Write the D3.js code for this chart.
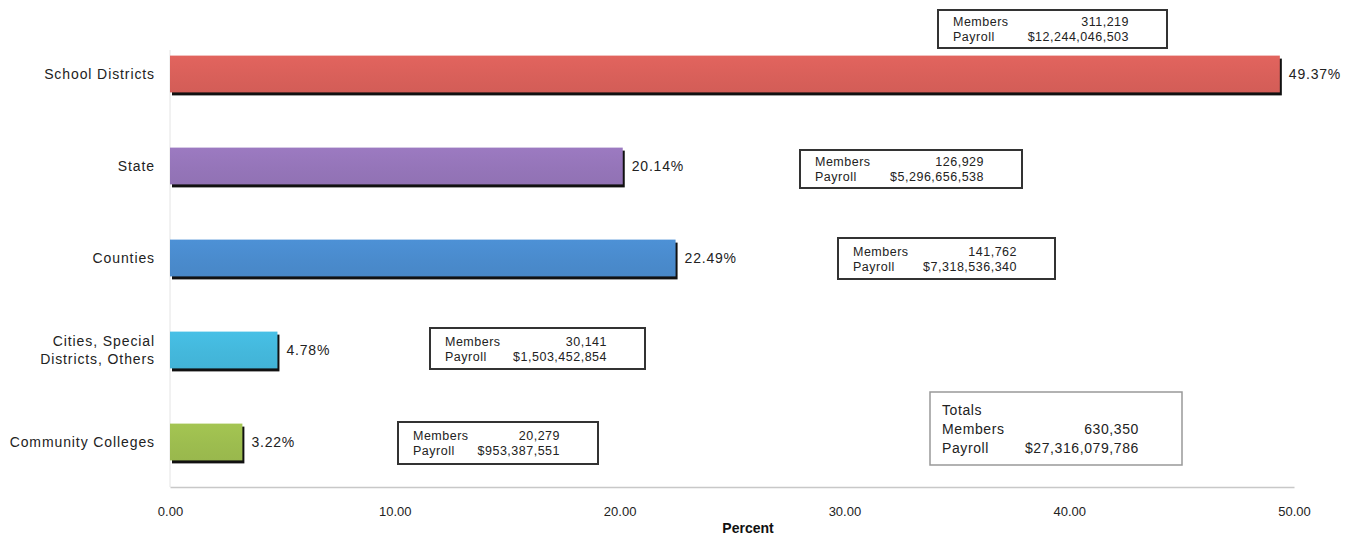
<!DOCTYPE html>
<html>
<head>
<meta charset="utf-8">
<script src="https://cdn.jsdelivr.net/npm/d3@7/dist/d3.min.js"></script>
<style>
  html, body { margin: 0; padding: 0; background: #fff; }
  svg { display: block; font-family: Arial, "Liberation Sans", sans-serif; }
</style>
</head>
<body>
<svg id="chart" width="1367" height="542"></svg>
<script>
// Employer groups and their share of members (percent)
const categories = ["School Districts", "State", "Counties", "Cities, Special\nDistricts, Others", "Community Colleges"];
const percents = [49.37, 20.14, 22.49, 4.78, 3.22];
const members = ["311,219", "126,929", "141,762", "30,141", "20,279"];
const payrolls = ["$12,244,046,503", "$5,296,656,538", "$7,318,536,340", "$1,503,452,854", "$953,387,551"];
const barColors = ["#d9605a", "#9575b9", "#4a8bcd", "#44b8dc", "#9dbd4f"];
const tickValues = [0, 10, 20, 30, 40, 50];
const totalMembers = "630,350";
const totalPayroll = "$27,316,079,786";

// Placement of each group's member/payroll box: [left, top, width, height]
const boxes = [
  [938, 10, 229, 38],
  [800, 150, 222, 38],
  [838, 238, 217, 41],
  [430, 328, 215, 41],
  [398, 422, 200, 42]
];

const svg = d3.select("#chart");

const x = d3.scaleLinear().domain([0, 50]).range([170, 1294]);
const y = d3.scaleBand().domain(categories).range([28, 488]).paddingInner(0.6).paddingOuter(0.3);

// faint left baseline
svg.append("line")
  .attr("x1", x(0)).attr("x2", x(0))
  .attr("y1", 50).attr("y2", 487)
  .attr("stroke", "#e4e4e4").attr("stroke-width", 1);

// bottom axis
const axis = d3.axisBottom(x).tickValues(tickValues).tickFormat(d3.format(".2f")).tickSize(0).tickPadding(20);
const gAxis = svg.append("g").attr("transform", "translate(0,487)").call(axis);
gAxis.select(".domain").attr("stroke", "#c8c8c8").attr("stroke-width", 1.5);
gAxis.selectAll("text")
  .attr("font-family", "'Liberation Sans Narrow', 'Arial Narrow', Arial, sans-serif")
  .attr("font-size", 13).attr("fill", "#222");

svg.append("text")
  .attr("x", 748).attr("y", 533)
  .attr("text-anchor", "middle")
  .attr("font-size", 14).attr("font-weight", "bold").attr("fill", "#111")
  .text("Percent");

// gradient per bar for a slight sheen
const defs = svg.append("defs");
barColors.forEach((c, i) => {
  const g = defs.append("linearGradient").attr("id", "grad" + i)
    .attr("x1", 0).attr("y1", 0).attr("x2", 0).attr("y2", 1);
  g.append("stop").attr("offset", "0%").attr("stop-color", d3.color(c).brighter(0.12));
  g.append("stop").attr("offset", "55%").attr("stop-color", c);
  g.append("stop").attr("offset", "100%").attr("stop-color", d3.color(c).darker(0.08));
});

const rows = svg.append("g").selectAll("g").data(categories).join("g");

// dark drop shadow along right and bottom edges
rows.append("rect")
  .attr("x", x(0) + 2)
  .attr("y", d => y(d) + 3)
  .attr("width", (d, i) => x(percents[i]) - x(0))
  .attr("height", y.bandwidth())
  .attr("fill", "#111");

rows.append("rect")
  .attr("x", x(0))
  .attr("y", d => y(d))
  .attr("width", (d, i) => x(percents[i]) - x(0))
  .attr("height", y.bandwidth())
  .attr("fill", (d, i) => `url(#grad${i})`);

// value labels
rows.append("text")
  .attr("x", (d, i) => x(percents[i]) + 9)
  .attr("y", d => y(d) + y.bandwidth() / 2 + 5)
  .attr("font-size", 14).attr("letter-spacing", 0.8).attr("fill", "#222")
  .text((d, i) => d3.format(".2f")(percents[i]) + "%");

// category labels
rows.append("text")
  .attr("text-anchor", "end")
  .attr("font-size", 14).attr("letter-spacing", 0.9).attr("fill", "#222")
  .each(function(d) {
    const lines = d.split("\n");
    const cy = y(d) + y.bandwidth() / 2;
    const t = d3.select(this);
    lines.forEach((ln, k) => {
      t.append("tspan")
        .attr("x", 155)
        .attr("y", cy + 5 + (k - (lines.length - 1) / 2) * 18)
        .text(ln);
    });
  });

// member / payroll boxes
const infos = svg.append("g").selectAll("g").data(boxes).join("g");
infos.append("rect")
  .attr("x", d => d[0]).attr("y", d => d[1])
  .attr("width", d => d[2]).attr("height", d => d[3])
  .attr("fill", "#fff").attr("stroke", "#333").attr("stroke-width", 2);
const boxText = (sel) => sel.attr("font-size", 12.5).attr("letter-spacing", 0.5).attr("fill", "#222");
infos.append("text")
  .attr("x", d => d[0] + 15).attr("y", d => d[1] + d[3] / 2 - 3)
  .call(boxText).text("Members");
infos.append("text")
  .attr("x", d => d[0] + 15).attr("y", d => d[1] + d[3] / 2 + 12)
  .call(boxText).text("Payroll");
infos.append("text")
  .attr("x", d => d[0] + d[2] - 38).attr("y", d => d[1] + d[3] / 2 - 3)
  .attr("text-anchor", "end")
  .call(boxText).text((d, i) => members[i]);
infos.append("text")
  .attr("x", d => d[0] + d[2] - 38).attr("y", d => d[1] + d[3] / 2 + 12)
  .attr("text-anchor", "end")
  .call(boxText).text((d, i) => payrolls[i]);

// totals box
const tot = svg.append("g");
tot.append("rect")
  .attr("x", 930).attr("y", 392).attr("width", 252).attr("height", 73)
  .attr("fill", "#fff").attr("stroke", "#999").attr("stroke-width", 1.5);
const totText = (sel) => sel.attr("font-size", 14).attr("letter-spacing", 0.6).attr("fill", "#222");
tot.append("text").attr("x", 942).attr("y", 415).call(totText).text("Totals");
tot.append("text").attr("x", 942).attr("y", 434).call(totText).text("Members");
tot.append("text").attr("x", 942).attr("y", 453).call(totText).text("Payroll");
tot.append("text").attr("x", 1139).attr("y", 434).attr("text-anchor", "end").call(totText).text(totalMembers);
tot.append("text").attr("x", 1139).attr("y", 453).attr("text-anchor", "end").call(totText).text(totalPayroll);
</script>
</body>
</html>
